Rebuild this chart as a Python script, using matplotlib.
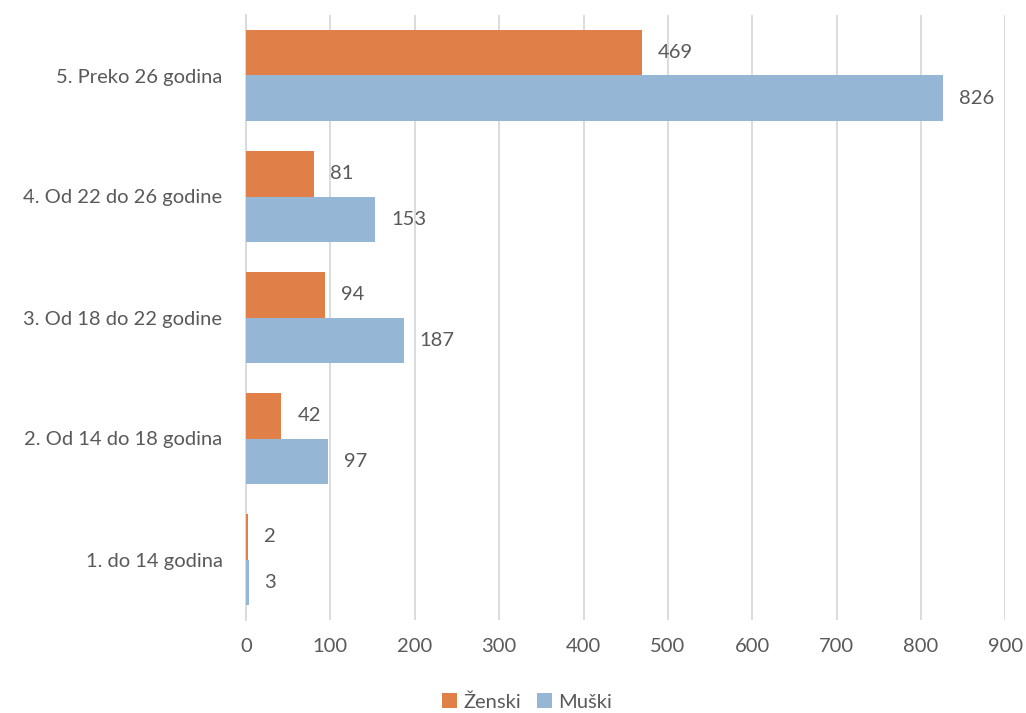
import matplotlib
matplotlib.use("Agg")
import matplotlib.pyplot as plt
import numpy as np

categories = ["1. do 14 godina", "2. Od 14 do 18 godina", "3. Od 18 do 22 godine",
              "4. Od 22 do 26 godine", "5. Preko 26 godina"]
zenski = [2, 42, 94, 81, 469]
muski = [3, 97, 187, 153, 826]
series_names = ["Ženski", "Muški"]
xticks = [0, 100, 200, 300, 400, 500, 600, 700, 800, 900]

c_z = "#E07F48"
c_m = "#95B6D4"
txt = "#595959"
plt.rcParams['font.family'] = ['Lato', 'DejaVu Sans']
fs = 14.5

fig = plt.figure(figsize=(10.26, 7.13), dpi=100)
ax = fig.add_axes([246/1026, 1-620/713, (1005.5-246)/1026, (620-15)/713])

y = np.arange(len(categories))
h = 0.372
ax.barh(y + h/2, zenski, height=h, color=c_z, label=series_names[0], zorder=3)
ax.barh(y - h/2, muski, height=h, color=c_m, label=series_names[1], zorder=3)

for yi, v in zip(y, zenski):
    ax.text(v + 19, yi + h/2, str(v), va='center', ha='left', fontsize=fs, color=txt)
for yi, v in zip(y, muski):
    ax.text(v + 19, yi - h/2, str(v), va='center', ha='left', fontsize=fs, color=txt)

ax.set_xlim(0, 900)
ax.set_ylim(-0.5, len(categories) - 0.5)
ax.set_xticks(xticks)
ax.set_xticklabels([str(t) for t in xticks])
ax.set_yticks(y)
ax.set_yticklabels(categories)
ax.tick_params(axis='both', length=0, labelsize=fs, colors=txt)
ax.tick_params(axis='x', pad=13)
ax.tick_params(axis='y', pad=17)
ax.grid(axis='x', color='#D9D9D9', linewidth=1.3, zorder=0)
for s in ['top', 'right', 'bottom']:
    ax.spines[s].set_visible(False)
ax.spines['left'].set_color('#D9D9D9')
ax.spines['left'].set_linewidth(1.3)

leg = fig.legend(loc='center', bbox_to_anchor=(527/1026, 1-702/713), ncol=2, frameon=False,
                 fontsize=fs, handlelength=0.75, handleheight=0.75, handletextpad=0.3,
                 columnspacing=0.8)
for t in leg.get_texts():
    t.set_color(txt)

fig.savefig("out.png", dpi=100)
